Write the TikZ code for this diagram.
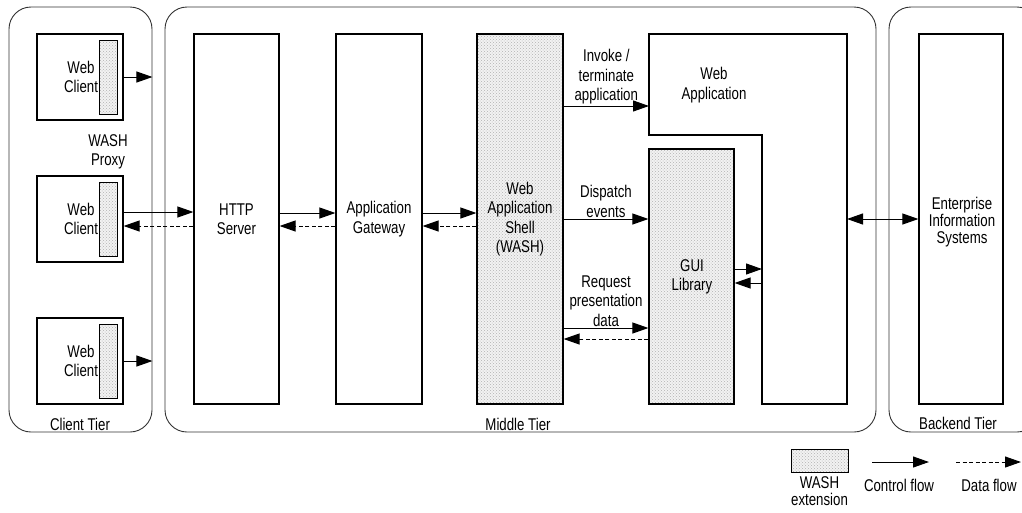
\documentclass[tikz,border=0pt]{standalone}
\usepackage{fontspec}
\setmainfont{Liberation Sans}[FakeStretch=0.78]
\usetikzlibrary{arrows.meta,patterns}

\begin{document}
\begin{tikzpicture}[x=1pt,y=-1pt,
  font=\fontsize{17}{19.5}\selectfont,
  tier/.style={draw=black!80,line width=0.9pt,rounded corners=22pt,inner sep=0pt},
  box/.style={draw,line width=1.2pt,inner sep=0pt,align=center},
  washfill/.style={preaction={fill=black!5},pattern=crosshatch dots,pattern color=black!30},
  ctrl/.style={line width=1pt,-{Triangle[length=16pt,width=11pt]}},
  data/.style={line width=1pt,dashed,dash pattern=on 4pt off 2.5pt,-{Triangle[length=16pt,width=11pt]}},
  lbl/.style={align=center,inner sep=1pt}]
\useasboundingbox (0,0) rectangle (1022,512);

% tiers
\node[tier,minimum width=143pt,minimum height=425pt] (client) at (80.5,219.5) {};
\node[tier,minimum width=711pt,minimum height=425pt] (middle) at (520.5,219.5) {};
\node[tier,minimum width=150pt,minimum height=425pt] (backend) at (964,219.5) {};
\node (clientlbl) at (80,424) {Client Tier};
\node (middlelbl) at (518,424) {Middle Tier};
\node (backendlbl) at (958,423) {Backend Tier};

% web clients
\foreach \i/\y in {1/77,2/219,3/361}{
  \node[box,minimum width=86pt,minimum height=86pt] (wc\i) at (80,\y) {};
  \node[draw,line width=1pt,washfill,minimum width=18pt,minimum height=74pt,inner sep=0pt]
    (wc\i s) at (108.5,\y) {};
  \node[lbl] (wc\i t) at (81,\y) {Web\\Client};
}
\node[lbl] (proxy) at (108,152) {WASH\\Proxy};

% middle tier
\node[box,minimum width=85pt,minimum height=370pt] (http) at (236.5,219) {HTTP\\Server};
\node[box,minimum width=86pt,minimum height=370pt] (gw) at (379,219) {Application\\Gateway};
\node[box,washfill,minimum width=86pt,minimum height=370pt] (wash) at (520,219) {};
\node[lbl] (washt) at (520,219) {Web\\Application\\Shell\\(WASH)};
\node[box,washfill,minimum width=85pt,minimum height=255pt] (gui) at (691.5,276.5) {};
\node[lbl] (guit) at (692,277) {GUI\\Library};
\draw[line width=1.2pt] (649,34) -| (847,404) -| (762,135) -| cycle;
\node[lbl] (webapp) at (714,85) {Web\\Application};
\coordinate (wain) at (649,106);
\coordinate (waevt) at (762,269);
\coordinate (waret) at (762,283);
\coordinate (waeis) at (847,219);

% backend
\node[box,minimum width=84pt,minimum height=370pt] (eis) at (961,219) {};
\node[lbl,font=\fontsize{17}{17}\selectfont] (eist) at (962,222) {Enterprise\\Information\\Systems};

% flows
\draw[ctrl] (wc1.east) -- (wc1.east -| client.east);
\draw[ctrl] (wc3.east) -- (wc3.east -| client.east);
\draw[ctrl] ([yshift=7pt]wc2.east) -- ([yshift=7pt]http.west);
\draw[data] ([yshift=-7pt]http.west) -- ([yshift=-7pt]wc2.east);
\draw[ctrl] ([yshift=6pt]http.east) -- ([yshift=6pt]gw.west);
\draw[data] ([yshift=-7pt]gw.west) -- ([yshift=-7pt]http.east);
\draw[ctrl] ([yshift=6pt]gw.east) -- ([yshift=6pt]wash.west);
\draw[data] ([yshift=-7pt]wash.west) -- ([yshift=-7pt]gw.east);
\draw[ctrl] (wash.east |- wain) -- node[lbl,above]{Invoke /\\terminate\\application} (wain);
\draw[ctrl] (wash.east |- 0,219) -- node[lbl,above]{Dispatch\\events} (gui.west |- 0,219);
\draw[ctrl] (wash.east |- 0,328) -- node[lbl,above]{Request\\presentation\\data} (gui.west |- 0,328);
\draw[data] (gui.west |- 0,339) -- (wash.east |- 0,339);
\draw[ctrl] (gui.east |- waevt) -- (waevt);
\draw[ctrl] (waret) -- (gui.east |- waret);
\draw[line width=1pt,{Triangle[length=16pt,width=11pt]}-{Triangle[length=16pt,width=11pt]}] (waeis) -- (eis.west |- waeis);

% legend
\node[draw,line width=1pt,washfill,minimum width=57pt,minimum height=23pt,inner sep=0pt] (legwash) at (819.5,460.5) {};
\node[lbl,below=3pt,font=\fontsize{17}{17}\selectfont] (legwasht) at (legwash.south) {WASH\\extension};
\coordinate (legc1) at (872,462);
\coordinate (legc2) at (929,462);
\coordinate (legd1) at (956,462);
\coordinate (legd2) at (1021,462);
\draw[ctrl] (legc1) -- (legc2);
\draw[data] (legd1) -- (legd2);
\node (legctrl) at (899,485) {Control flow};
\node (legdata) at (989,485) {Data flow};
\end{tikzpicture}
\end{document}
